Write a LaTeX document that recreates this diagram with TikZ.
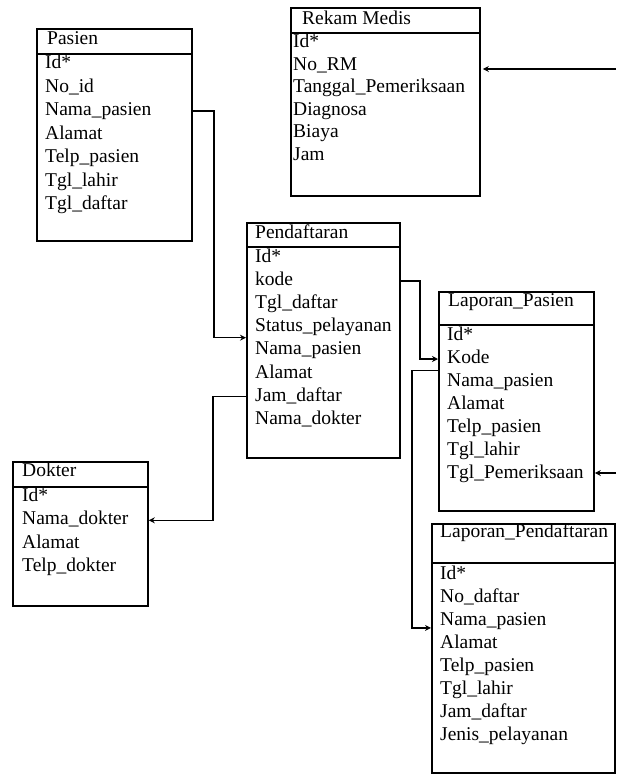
\documentclass[tikz,border=0pt]{standalone}
\usepackage{fontspec}
\setmainfont{Liberation Serif}
\usetikzlibrary{arrows.meta,positioning,calc}

\begin{document}
\begin{tikzpicture}[x=1pt, y=-1pt, >={Stealth[length=6pt,width=6pt]},
  font=\fontsize{19.5pt}{23pt}\selectfont]
  % Styles
  \tikzset{kotak/.style={draw, rectangle, line width=1.8pt, anchor=north west, inner sep=0pt},
           isi/.style={anchor=west, inner sep=0pt, text height=13pt, text depth=4pt},
           garis/.style={->, line width=1.5pt}}
  \useasboundingbox (0,0) rectangle (616,774);

  % Pasien
  \node [kotak, minimum width=155pt, minimum height=25pt] (pasien-h) at (36,28) {};
  \node [kotak, minimum width=155pt, minimum height=187pt] (pasien) at (36,53) {};
  \node [isi] (pasien-t) at (47,40) {Pasien};
  \foreach \t [count=\i] in {Id*, No\_id, Nama\_pasien, Alamat, Telp\_pasien, Tgl\_lahir, Tgl\_daftar}
    \node [isi] (pas-\i) at (45,{64+23.5*(\i-1)}) {\t};

  % Rekam Medis
  \node [kotak, minimum width=189pt, minimum height=25pt] (rekam-h) at (290,7) {};
  \node [kotak, minimum width=189pt, minimum height=163pt] (rekam) at (290,32) {};
  \node [isi] (rekam-t) at (302,20) {Rekam Medis};
  \foreach \t [count=\i] in {Id*, No\_RM, Tanggal\_Pemeriksaan, Diagnosa, Biaya, Jam}
    \node [isi] (rm-\i) at (293,{43+22.5*(\i-1)}) {\t};

  % Pendaftaran
  \node [kotak, minimum width=153pt, minimum height=24pt] (pendaftaran-h) at (246,222) {};
  \node [kotak, minimum width=153pt, minimum height=211pt] (pendaftaran) at (246,246) {};
  \node [isi] (pendaftaran-t) at (255,234) {Pendaftaran};
  \foreach \t [count=\i] in {Id*, kode, Tgl\_daftar, Status\_pelayanan, Nama\_pasien, Alamat, Jam\_daftar, Nama\_dokter}
    \node [isi] (pen-\i) at (255,{258+23.1*(\i-1)}) {\t};

  % Laporan_Pasien
  \node [kotak, minimum width=155pt, minimum height=33pt] (lappasien-h) at (438,291) {};
  \node [kotak, minimum width=155pt, minimum height=186pt] (lappasien) at (438,324) {};
  \node [isi] (lappasien-t) at (448,302) {Laporan\_Pasien};
  \foreach \t [count=\i] in {Id*, Kode, Nama\_pasien, Alamat, Telp\_pasien, Tgl\_lahir, Tgl\_Pemeriksaan}
    \node [isi] (lp-\i) at (447,{336+23*(\i-1)}) {\t};

  % Dokter
  \node [kotak, minimum width=135pt, minimum height=25pt] (dokter-h) at (12,461) {};
  \node [kotak, minimum width=135pt, minimum height=119pt] (dokter) at (12,486) {};
  \node [isi] (dokter-t) at (22,472) {Dokter};
  \foreach \t [count=\i] in {Id*, Nama\_dokter, Alamat, Telp\_dokter}
    \node [isi] (dok-\i) at (22,{497+23.3*(\i-1)}) {\t};

  % Laporan_Pendaftaran
  \node [kotak, minimum width=183pt, minimum height=39pt] (lappend-h) at (431,523) {};
  \node [kotak, minimum width=183pt, minimum height=210pt] (lappend) at (431,562) {};
  \node [isi] (lappend-t) at (440,533) {Laporan\_Pendaftaran};
  \foreach \t [count=\i] in {Id*, No\_daftar, Nama\_pasien, Alamat, Telp\_pasien, Tgl\_lahir, Jam\_daftar, Jenis\_pelayanan}
    \node [isi] (lpd-\i) at (440,{575+23*(\i-1)}) {\t};

  % Connections
  \coordinate (m1) at ($(pen-4)!.45!(pen-5)$);
  \coordinate (m2) at ($(lp-2)!.5!(lp-3)$);
  \coordinate (m3) at ($(lpd-3)!.3!(lpd-4)$);
  \coordinate (ujung1) at (616,69);
  \coordinate (ujung2) at (616,473);

  \draw [garis] (pas-3 -| pasien.east) -- ++(21,0) |- (m1 -| pendaftaran.west);
  \draw [garis] (pen-2 -| pendaftaran.east) -- ++(19,0) |- (lp-2 -| lappasien.west);
  \draw [garis] (m2 -| lappasien.west) -- ++(-26,0) |- (m3 -| lappend.west);
  \draw [garis] (pen-7 -| pendaftaran.west) -- ++(-33,0) |- (dok-2 -| dokter.east);
  \draw [garis, shorten >=2pt] (ujung1) -- (ujung1 -| rekam.east);
  \draw [garis] (ujung2) -- (ujung2 -| lappasien.east);

\end{tikzpicture}
\end{document}
